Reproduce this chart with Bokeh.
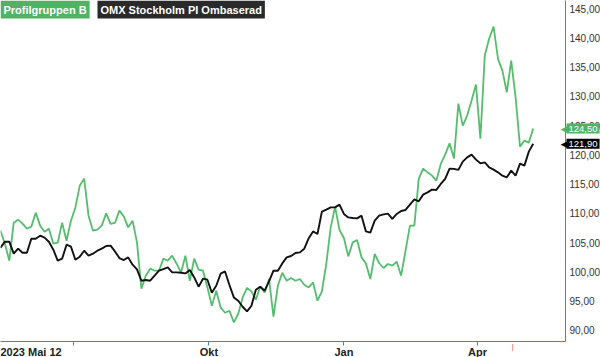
import pandas as pd
from bokeh.plotting import figure
from bokeh.models import Label, FixedTicker, CustomJSTickFormatter, Range1d
from bokeh.embed import file_html
from bokeh.resources import INLINE

# ---------------- data ----------------
start_date = "2023-05-12"
end_date = "2024-05-31"
n_points = 122
step = "3D"

series_names = ["Profilgruppen B", "OMX Stockholm PI Ombaserad"]

profil = [107.05, 104.83, 101.92, 108.42, 108.93, 108.25, 107.39, 107.74, 110.13, 107.91,
          106.88, 107.39, 104.83, 105.00, 108.42, 105.34, 108.76, 110.98, 114.74, 115.94,
          109.62, 107.05, 107.22, 107.91, 110.01, 108.20, 108.37, 110.47, 109.50, 107.62,
          108.76, 105.05, 97.14, 99.36, 100.56, 100.21, 100.21, 102.27, 101.92, 102.78,
          101.41, 99.87, 102.78, 98.50, 102.27, 100.39, 100.21, 97.36, 94.23, 96.80,
          93.94, 93.03, 93.38, 91.38, 92.86, 95.65, 97.26, 96.68, 95.26, 97.53,
          96.51, 98.80, 92.35, 97.65, 99.87, 98.50, 98.97, 98.50, 98.80, 97.82,
          97.36, 98.21, 95.09, 96.68, 101.36, 107.62, 111.15, 107.17, 105.80, 102.66,
          105.05, 105.46, 102.49, 101.46, 98.80, 103.07, 101.53, 100.68, 101.36, 101.07,
          101.75, 99.36, 103.63, 107.91, 107.91, 115.89, 117.65, 117.02, 116.45, 115.60,
          118.45, 120.04, 121.97, 119.36, 128.76, 125.00, 126.71, 129.27, 132.01, 122.78,
          136.97, 139.87, 141.92, 136.40, 134.40, 130.69, 136.11, 129.84, 121.41, 122.44,
          122.09, 124.50]

omx = [104.15, 105.17, 105.17, 103.12, 103.98, 103.29, 103.29, 105.68, 105.68, 106.20,
       105.86, 105.17, 103.80, 101.92, 102.27, 104.66, 104.32, 102.09, 102.61, 103.63,
       102.78, 103.12, 103.63, 103.98, 104.44, 104.49, 103.51, 102.38, 102.04, 102.49,
       101.24, 100.44, 98.50, 98.62, 98.50, 99.36, 100.21, 100.50, 100.78, 99.92,
       99.92, 99.87, 99.75, 100.33, 99.07, 97.48, 98.85, 98.68, 96.45, 97.65,
       99.70, 100.09, 97.77, 95.65, 95.09, 94.06, 93.26, 94.23, 96.97, 97.48,
       96.80, 98.39, 100.21, 100.21, 101.46, 102.49, 102.73, 103.24, 103.34, 103.98,
       105.74, 106.93, 106.49, 110.30, 110.64, 111.03, 111.03, 111.50, 109.91, 109.32,
       109.22, 109.15, 109.62, 106.93, 106.71, 108.76, 109.62, 109.84, 109.96, 109.05,
       109.91, 110.42, 110.59, 111.50, 112.40, 112.06, 113.21, 113.60, 114.06, 114.01,
       115.03, 115.89, 117.65, 117.60, 117.43, 118.85, 119.58, 120.04, 119.19, 118.56,
       118.73, 117.87, 117.48, 117.02, 116.45, 116.16, 117.31, 116.45, 118.50, 118.16,
       120.56, 121.90]

y_ticks = [90, 95, 100, 105, 110, 115, 120, 125, 130, 135, 140, 145]
y_min, y_max = 88.12, 146.37
x_tick_dates = ["2023-07-01", "2023-10-01", "2024-01-01", "2024-04-01"]
x_tick_labels = ["", "Okt", "Jan", "Apr"]
start_label = "2023 Mai 12"
marker_date = "2024-04-25"
last_labels = ["124,50", "121,90"]

# ---------------- style ----------------
GREEN = "#55bd6d"
GREEN_BOX = "#4fb364"
BLACK = "#111111"
AXIS = "#4f82b0"
FONT = "Liberation Sans"

def ms(d):
    return pd.Timestamp(d).value / 1e6

dates = pd.date_range(start_date, periods=n_points, freq=step)

p = figure(frame_width=565, frame_height=341, x_axis_type="datetime", y_axis_location="right",
           x_range=Range1d(ms(start_date), ms(end_date)),
           y_range=Range1d(y_min, y_max),
           output_backend="svg", toolbar_location=None, min_border=0)
p.outline_line_color = None
p.grid.visible = False
p.background_fill_color = "white"
p.border_fill_color = "white"

p.line(dates, profil, line_color=GREEN, line_width=1.8)
p.line(dates, omx, line_color=BLACK, line_width=1.9)

# y axis
ya = p.yaxis[0]
ya.ticker = FixedTicker(ticks=y_ticks)
ya.formatter = CustomJSTickFormatter(code="return tick.toFixed(2).replace('.', ',');")
ya.axis_line_color = AXIS
ya.major_tick_line_color = None
ya.major_tick_in = 0
ya.major_tick_out = 0
ya.minor_tick_line_color = None
ya.minor_tick_in = 0
ya.minor_tick_out = 0
ya.major_label_text_font = FONT
ya.major_label_text_font_size = "10px"
ya.major_label_text_color = "#333333"
ya.major_label_standoff = 4

# x axis
xa = p.xaxis[0]
xa.ticker = FixedTicker(ticks=[ms(d) for d in x_tick_dates])
xa.formatter = CustomJSTickFormatter(
    args=dict(tick_pos=[ms(d) for d in x_tick_dates], tick_names=x_tick_labels),
    code="""
    let best = -1, bd = 1e20;
    for (let i = 0; i < tick_pos.length; i++) {
        const dd = Math.abs(tick_pos[i] - tick);
        if (dd < bd) { bd = dd; best = i; }
    }
    return best >= 0 ? tick_names[best] : "";
    """)
xa.axis_line_color = AXIS
xa.major_tick_line_color = AXIS
xa.major_tick_in = 0
xa.major_tick_out = 4
xa.minor_tick_line_color = None
xa.minor_tick_in = 0
xa.minor_tick_out = 0
xa.major_label_text_font = FONT
xa.major_label_text_font_size = "11px"
xa.major_label_text_font_style = "bold"
xa.major_label_text_color = "#222222"
xa.major_label_standoff = 0

# start date label (outside the frame -> side panel)
p.add_layout(Label(x=ms(start_date), y=y_min, text=start_label, text_align="left",
                   text_baseline="top", y_offset=-4, x_offset=0,
                   text_font=FONT, text_font_size="11px", text_font_style="bold",
                   text_color="#222222"), "below")
# red marker tick
p.add_layout(Label(x=ms(marker_date), y=y_min, text="|", text_align="center",
                   text_baseline="top", y_offset=-1,
                   text_font=FONT, text_font_size="7px", text_color="#e03030"), "below")

# legend boxes
p.add_layout(Label(x=ms(start_date), y=y_max, text=series_names[0], text_align="left",
                   text_baseline="top", x_offset=0, y_offset=0,
                   text_font=FONT, text_font_size="11px", text_font_style="bold",
                   text_color="white", background_fill_color=GREEN_BOX, padding=3))
p.add_layout(Label(x=ms(start_date), y=y_max, text=series_names[1], text_align="left",
                   text_baseline="top", x_offset=97, y_offset=0,
                   text_font=FONT, text_font_size="11px", text_font_style="bold",
                   text_color="white", background_fill_color="#2a2a2a", padding=3))

# last value tags
for val, txt, col in [(profil[-1], last_labels[0], GREEN_BOX), (omx[-1], last_labels[1], "#000000")]:
    p.add_layout(Label(x=ms(end_date), y=val, text="◀", text_align="left",
                       text_baseline="middle", x_offset=-5, level="overlay",
                       text_font="DejaVu Sans", text_font_size="9px", text_color=col), "right")
    p.add_layout(Label(x=ms(end_date), y=val, text=txt, text_align="left",
                       text_baseline="middle", x_offset=1, level="overlay",
                       text_font=FONT, text_font_size="9.5px",
                       text_color="white", background_fill_color=col, padding=2), "right")

open("out.html", "w").write(file_html(p, INLINE))
